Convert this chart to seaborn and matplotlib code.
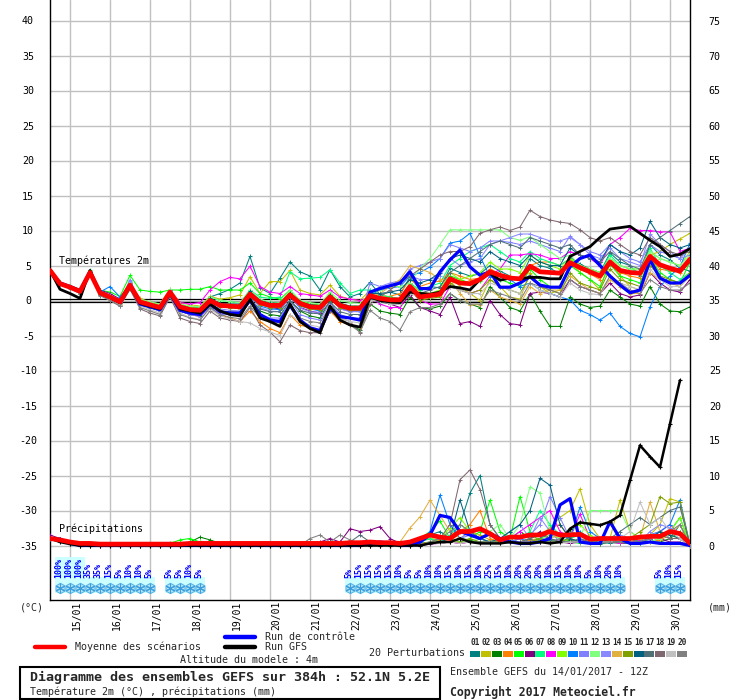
import matplotlib
matplotlib.use("Agg")
import matplotlib.pyplot as plt
import seaborn as sns
from matplotlib.lines import Line2D
from matplotlib.patches import Rectangle

# ---------------- data ----------------
HOURS = [6 * k for k in range(65)]          # 6-hourly steps, 0..384 h
DATE_HOURS = [12, 36, 60, 84, 108, 132, 156, 180, 204, 228, 252, 276, 300, 324, 348, 372]
DATE_LABELS = ["15/01", "16/01", "17/01", "18/01", "19/01", "20/01", "21/01", "22/01",
               "23/01", "24/01", "25/01", "26/01", "27/01", "28/01", "29/01", "30/01"]
LEFT_TICKS = [-35, -30, -25, -20, -15, -10, -5, 0, 5, 10, 15, 20, 25, 30, 35, 40]
RIGHT_TICKS = [0, 5, 10, 15, 20, 25, 30, 35, 40, 45, 50, 55, 60, 65, 70, 75]

MEMBER_NAMES = ["01", "02", "03", "04", "05", "06", "07", "08", "09", "10",
                "11", "12", "13", "14", "15", "16", "17", "18", "19", "20"]
MEMBER_COLORS = ["#008080", "#c0c000", "#008000", "#ff8000", "#00ff00", "#800080",
                 "#00ff80", "#ff00ff", "#80ff00", "#0080ff", "#8080ff", "#80ff80",
                 "#8888ff", "#e0b040", "#80a000", "#006080", "#507078", "#806870",
                 "#c0c0c0", "#808080"]

T_MEAN = [4.3,2.4,1.9,1.3, 4.0,1.1,0.5,-0.2, 2.2,-0.2,-0.6,-1.0, 1.2,-0.9,-1.3,-1.4,
          0.0,-0.7,-0.8,-0.9, 0.9,-0.3,-0.7,-0.7, 0.8,-0.4,-0.9,-1.0, 0.5,-0.7,-1.1,-1.1,
          0.7,0.3,0.1,0.1, 2.0,0.5,0.7,0.9, 3.1,2.5,2.4,3.0, 4.1,3.6,3.2,3.1,
          4.9,4.1,4.0,3.9, 5.4,4.7,4.1,3.5, 5.5,4.3,4.0,3.9, 6.3,5.1,4.6,4.2, 5.9]
T_GFS = [4.3,1.6,1.0,0.3, 4.3,1.0,0.4,-0.3, 2.0,-0.4,-0.8,-1.2, 1.0,-1.2,-1.5,-1.8,
         -0.5,-1.5,-2.0,-2.2, 0.2,-2.5,-3.0,-3.7, -0.5,-3.0,-4.0,-4.6, -0.8,-2.8,-3.5,-3.8,
         0.5,0.0,-0.2,-0.3, 1.2,1.0,0.9,1.2, 2.0,1.8,1.5,3.0, 3.9,2.9,3.2,3.1,
         3.3,3.3,3.1,3.1, 6.3,7.0,7.7,9.0, 10.2,10.4,10.6,9.6, 8.6,7.7,6.3,6.6, 7.4]
T_CTRL = [4.3,2.5,2.0,1.4, 4.1,1.2,0.5,-0.3, 2.2,-0.5,-0.9,-1.3, 1.0,-1.4,-1.8,-2.0,
          -0.5,-1.6,-1.8,-1.8, 0.0,-2.0,-2.8,-3.0, -0.7,-2.8,-3.9,-4.3, -1.1,-2.3,-2.5,-2.8,
          1.2,1.7,2.1,2.5, 4.1,1.7,1.7,4.1, 5.8,7.2,4.8,3.6, 4.1,1.9,1.9,2.5,
          3.4,2.2,1.9,1.9, 4.8,6.0,6.5,5.0, 3.5,2.2,1.1,1.5, 5.8,3.2,2.5,2.5, 3.6]

T01 = [4.3,2.6,2.0,1.5, 4.2,1.4,0.7,-0.1, 2.6,0.0,-0.3,-0.8, 1.5,-0.5,-1.0,-0.9,
       0.5,1.0,1.6,2.5, 6.3,1.8,1.0,3.2, 5.5,4.1,3.5,1.5, 4.4,2.0,0.5,1.0,
       2.6,0.8,1.2,0.8, 3.4,1.5,2.0,1.8, 4.6,4.0,3.5,3.8, 5.0,4.2,3.5,3.0,
       6.0,5.0,4.6,3.8, 6.2,5.2,4.5,4.0, 6.8,5.5,5.0,3.5, 8.0,6.5,5.8,4.6, 4.2]
T02 = [4.3,2.5,2.0,1.4, 4.1,1.3,0.6,0.0, 2.5,0.3,-0.2,-0.5, 1.6,-0.3,-0.6,-0.8,
       0.6,0.2,0.4,0.8, 3.4,1.0,2.7,2.7, 4.3,1.5,1.0,0.8, 2.2,0.6,0.2,0.0,
       1.5,0.8,0.5,0.2, 2.5,1.2,1.0,0.6, 3.5,2.0,1.0,0.0, 3.0,2.0,0.5,0.2,
       4.0,2.0,1.0,1.5, 5.5,4.0,3.0,1.5, 6.0,3.5,2.0,1.5, 6.5,7.0,8.0,8.8, 9.6]
T03 = [4.3,2.3,1.8,1.0, 3.8,0.8,0.2,-0.6, 1.8,-0.6,-1.0,-1.5, 0.8,-1.5,-2.0,-2.2,
       -0.8,-1.5,-1.8,-2.0, 0.2,-1.5,-2.0,-2.2, 0.0,-1.5,-2.2,-2.5, 0.0,-2.8,-3.5,-4.2,
       -0.5,-1.5,-1.8,-2.0, 0.5,-1.0,-1.2,-0.8, 1.0,0.0,-0.5,-1.0, 2.0,0.5,-1.0,-1.5,
       1.0,-1.5,-3.7,-3.7, 0.5,-0.5,-1.0,-0.8, 1.5,0.5,-0.5,-0.8, 2.0,-0.5,-1.5,-1.6, -0.9]
T04 = [4.3,2.4,1.8,1.2, 3.9,1.0,0.3,-0.5, 2.0,-0.5,-0.9,-1.3, 0.9,-1.5,-2.0,-2.3,
       -1.0,-2.0,-2.5,-3.0, -1.5,-3.0,-4.0,-4.6, -2.0,-3.5,-3.9,-4.2, -1.5,-3.0,-3.5,-3.8,
       0.0,0.5,0.6,1.0, 3.0,2.0,2.5,2.8, 4.0,3.5,3.0,3.2, 4.5,3.8,3.5,3.0,
       5.0,5.5,5.5,5.0, 6.0,4.5,3.8,3.0, 5.2,4.0,3.5,3.2, 6.0,4.5,4.2,4.0, 6.0]
T05 = [4.3,2.6,2.1,1.6, 4.3,1.5,1.2,0.6, 3.6,1.5,1.3,1.2, 1.5,1.5,1.6,1.6,
       2.0,1.5,1.5,1.5, 2.5,1.0,0.5,0.2, 1.5,0.0,-0.5,-0.8, 1.0,-0.5,-1.0,-1.0,
       0.8,0.0,-0.5,-0.3, 1.5,0.5,0.8,1.0, 3.5,3.0,2.5,2.8, 4.0,3.0,2.5,2.0,
       4.5,3.0,2.0,1.8, 5.0,4.0,3.0,2.0, 5.2,3.5,3.0,2.5, 6.0,4.0,3.0,2.5, 5.5]
T06 = [4.3,2.5,2.0,1.3, 4.1,1.5,1.0,0.2, 2.5,0.0,-0.4,-0.8, 1.3,-0.6,-1.0,-1.2,
       0.2,-0.5,-0.8,-1.0, 0.8,-0.5,-1.0,-1.2, 0.5,-1.0,-1.5,-1.8, 0.5,-1.2,-1.5,-1.5,
       0.5,0.0,-0.5,-1.0, 0.8,-1.0,-1.5,-2.0, 0.5,-3.3,-3.0,-3.7, 0.0,-2.0,-3.3,-3.5,
       1.0,1.2,1.0,0.5, 3.0,2.0,1.5,1.0, 2.5,1.0,0.5,0.8, 4.0,2.5,1.5,1.2, 3.0]
T07 = [4.3,2.5,1.9,1.4, 4.1,1.2,0.6,-0.1, 2.4,0.0,-0.4,-0.8, 1.4,-0.6,-1.0,-1.0,
       0.5,0.0,-0.2,-0.3, 1.5,0.5,0.3,0.5, 4.1,3.1,3.2,3.3, 4.4,2.5,1.0,1.5,
       1.5,0.8,0.5,0.3, 2.5,1.5,2.0,2.5, 5.0,6.0,7.0,7.5, 8.0,7.0,6.0,5.5,
       7.0,6.0,5.5,5.0, 6.0,5.0,4.5,4.0, 6.5,5.0,4.5,4.0, 7.5,5.0,4.0,3.0, 4.0]
T08 = [4.3,2.5,1.9,1.3, 4.0,1.2,0.5,-0.2, 2.3,0.0,-0.4,-0.7, 1.5,-0.3,-0.5,-0.3,
       1.5,2.7,3.3,3.1, 4.9,2.0,1.2,1.0, 2.0,1.0,0.8,0.6, 1.5,0.5,0.2,0.0,
       0.5,-0.5,-1.0,-1.0, 1.5,0.0,-0.5,-0.5, 2.0,1.5,1.0,1.5, 3.5,4.5,6.5,6.5,
       6.7,6.5,6.0,6.0, 7.0,6.5,6.0,5.0, 8.0,9.0,10.3,10.0, 10.0,9.8,9.8,7.0, 7.5]
T09 = [4.3,2.4,1.9,1.4, 4.1,1.2,0.6,0.0, 2.4,0.1,-0.3,-0.7, 1.4,-0.7,-1.0,-1.2,
       0.3,-0.5,-0.5,-0.6, 1.4,0.0,-0.4,-0.4, 1.2,-0.1,-0.5,-0.6, 1.0,-0.4,-0.8,-0.8,
       1.0,0.5,0.2,0.0, 2.2,0.8,1.0,1.5, 4.0,3.0,3.5,4.0, 5.5,4.5,4.5,4.0,
       6.5,5.5,5.0,4.5, 6.0,5.0,4.5,4.0, 6.0,5.0,4.5,4.5, 7.0,6.0,5.5,5.0, 7.0]
T10 = [4.3,2.4,2.0,1.5, 3.9,1.2,2.0,0.5, 2.3,-0.3,-0.8,-1.0, 1.2,-1.0,-1.4,-1.6,
       -0.3,-0.9,-1.0,-1.2, 0.5,-0.8,-1.2,-1.3, 0.5,-0.8,-1.2,-1.5, 0.3,-1.0,-1.4,-1.5,
       0.8,1.5,1.8,2.0, 3.5,4.0,4.8,6.0, 8.2,8.5,9.6,6.3, 3.4,3.5,3.0,2.0,
       2.5,1.5,1.0,0.5, 0.1,-1.4,-2.0,-2.8, -1.8,-3.7,-4.7,-5.2, -0.9,2.0,3.5,4.8, 8.2]
T11 = [4.3,2.5,2.0,1.4, 4.2,1.3,0.8,0.0, 2.8,-0.5,-1.0,-1.5, 1.0,-1.5,-2.0,-2.3,
       -1.0,-2.0,-2.0,-2.2, 0.5,-2.0,-2.5,-2.5, 0.0,-2.0,-2.5,-2.8, -0.3,-2.0,-2.5,-2.5,
       2.5,2.0,2.2,2.5, 4.5,5.0,5.5,6.0, 8.0,7.5,7.0,7.5, 8.5,8.5,8.3,8.0,
       8.5,8.0,7.5,7.0, 9.2,8.0,7.0,6.5, 8.0,7.0,6.0,5.5, 8.0,7.0,6.5,6.0, 7.5]
T12 = [4.3,2.5,2.0,1.4, 4.1,1.3,0.7,0.0, 2.6,0.2,-0.2,-0.5, 1.6,-0.5,-0.8,-0.9,
       0.5,0.0,-0.2,-0.3, 1.5,0.2,-0.2,-0.3, 1.5,0.0,-0.3,-0.5, 1.2,0.0,-0.3,-0.4,
       1.0,1.5,2.0,2.0, 2.5,4.6,6.0,8.0, 10.1,10.1,10.1,10.1, 10.1,10.1,9.0,8.6,
       9.1,8.0,7.0,6.0, 6.5,5.0,4.5,4.0, 6.0,5.0,4.5,4.5, 7.0,6.0,5.5,5.0, 6.5]
T13 = [4.3,2.4,1.9,1.3, 4.0,1.2,0.5,-0.3, 3.0,-0.3,-0.7,-1.1, 1.4,-1.0,-1.5,-1.7,
       -0.5,-1.2,-1.4,-1.5, 0.8,-1.0,-1.5,-1.6, 0.6,-1.1,-1.6,-1.7, 0.5,-1.2,-1.6,-1.6,
       1.0,2.0,2.5,2.8, 3.5,3.0,3.0,3.5, 6.0,5.0,5.5,6.0, 8.0,8.5,9.0,9.5,
       9.5,9.0,8.5,8.5, 9.0,8.0,6.5,6.0, 7.5,6.0,5.5,5.0, 9.5,8.0,7.0,6.0, 6.5]
T14 = [4.3,2.4,1.9,1.3, 4.0,1.0,0.3,-0.4, 2.0,-0.4,-0.8,-1.2, 1.0,-1.2,-1.6,-1.8,
       -0.2,-0.8,-1.0,-1.2, 1.0,-0.5,-0.8,-0.8, 1.0,-0.5,-1.0,-1.0, 0.8,-0.8,-1.2,-1.2,
       0.5,1.0,2.0,3.0, 5.0,4.5,4.0,3.0, 3.0,1.0,-0.6,-0.6, 1.5,0.5,0.0,-0.5,
       2.0,1.0,1.5,1.5, 3.5,2.5,1.5,1.0, 3.0,2.0,1.0,1.0, 4.0,3.0,2.5,2.0, 3.5]
T15 = [4.3,2.3,1.8,1.2, 3.9,1.0,0.4,-0.3, 2.1,-0.3,-0.7,-1.1, 1.1,-1.1,-1.5,-1.6,
       -0.2,-0.9,-1.0,-1.1, 0.6,-0.6,-1.0,-1.0, 0.6,-0.7,-1.2,-1.3, 0.2,-1.0,-1.4,-1.4,
       0.5,0.0,-0.3,-0.5, 1.5,0.0,0.3,0.5, 2.5,1.5,1.0,1.5, 3.0,2.0,1.5,1.0,
       3.5,2.0,1.5,1.0, 4.0,2.5,2.0,1.5, 4.5,3.0,2.5,2.0, 5.0,3.5,3.0,2.5, 4.0]
T16 = [4.3,2.5,1.9,1.3, 4.1,1.0,0.4,-0.3, 2.1,-0.4,-0.8,-1.2, 1.1,-1.1,-1.5,-1.6,
       0.3,-0.4,-0.5,-0.5, 1.3,0.0,-0.4,-0.4, 1.1,-0.2,-0.6,-0.7, 0.8,-0.4,-0.8,-0.8,
       1.0,1.0,1.2,1.5, 3.0,2.5,3.0,4.0, 6.0,6.5,6.0,5.5, 7.0,6.0,5.5,5.0,
       6.5,5.5,5.0,5.0, 7.5,6.5,6.0,5.5, 8.0,7.0,6.5,7.5, 11.3,9.0,8.0,7.5, 8.0]
T17 = [4.3,2.4,1.9,1.3, 4.0,1.1,0.3,-0.4, 2.0,-0.6,-1.0,-1.4, 0.9,-1.4,-1.8,-2.0,
       -0.8,-1.5,-1.6,-1.7, 0.2,-1.2,-1.6,-1.6, 0.0,-1.4,-1.8,-1.9, -0.2,-1.6,-2.0,-2.0,
       0.2,-0.2,-0.5,-0.5, 1.5,1.0,1.5,2.0, 4.0,5.0,6.0,7.0, 8.0,8.5,8.0,7.5,
       9.0,8.5,8.0,7.5, 8.0,6.5,6.0,5.5, 7.0,6.0,5.0,4.5, 8.0,9.0,10.0,11.0, 12.0]
T18 = [4.3,2.3,1.8,1.1, 3.8,0.8,0.0,-0.8, 1.6,-1.2,-1.8,-2.2, 0.5,-2.5,-3.0,-3.3,
       -1.5,-2.5,-2.8,-3.0, -1.0,-3.5,-4.5,-5.9, -3.5,-4.3,-4.6,-4.6, -1.5,-2.5,-3.0,-4.6,
       -0.5,0.5,1.5,2.5, 3.5,4.5,5.5,6.5, 7.0,7.0,7.7,9.6, 10.1,10.5,10.0,10.5,
       12.9,12.0,11.5,11.2, 11.0,10.1,9.0,8.5, 9.0,8.0,7.0,6.5, 9.0,8.0,7.0,6.5, 7.0]
T19 = [4.3,2.4,1.8,1.2, 3.9,0.9,0.2,-0.6, 1.9,-0.8,-1.3,-1.8, 0.7,-1.8,-2.4,-2.7,
       -1.2,-2.2,-2.6,-3.0, -3.2,-4.0,-4.5,-5.0, -2.0,-3.0,-3.5,-3.8, -1.0,-2.5,-3.0,-3.2,
       0.0,0.0,-0.5,-0.5, 1.0,0.5,0.5,0.8, 2.0,1.5,1.0,1.0, 2.5,2.0,1.5,1.0,
       2.5,1.5,1.0,0.5, 2.5,1.5,1.0,0.8, 3.5,2.5,2.0,1.5, 4.5,3.0,2.0,2.0, 3.5]
T20 = [4.3,2.3,1.7,1.0, 3.7,0.7,0.0,-0.8, 1.7,-1.0,-1.5,-2.0, 0.6,-2.0,-2.5,-2.8,
       -1.0,-2.0,-2.4,-2.6, -0.8,-2.5,-3.0,-3.2, -0.5,-2.5,-3.0,-3.2, -0.8,-2.8,-3.5,-4.5,
       -1.4,-2.5,-3.0,-4.2, -1.6,-1.0,-1.0,-0.5, 1.0,0.0,-0.5,-0.5, 1.5,1.0,0.5,0.0,
       2.5,2.0,1.5,1.0, 3.0,2.0,1.5,1.0, 3.5,2.5,1.5,1.0, 3.0,2.0,1.5,1.5, 2.5]

P_MEAN = [1.0,0.8,0.5,0.3, 0.3,0.2,0.2,0.2, 0.2,0.2,0.2,0.2, 0.2,0.2,0.3,0.3,
          0.3,0.3,0.3,0.3, 0.3,0.3,0.3,0.3, 0.3,0.3,0.3,0.3, 0.3,0.3,0.4,0.4,
          0.5,0.4,0.4,0.3, 0.5,1.0,1.5,1.2, 1.0,2.0,2.0,2.4, 1.7,0.8,1.2,1.2,
          1.5,1.5,2.0,1.5, 1.5,1.6,0.9,1.0, 1.0,1.0,1.0,1.2, 1.3,1.3,2.0,1.7, 0.3]
P_GFS = [1.0,0.5,0.2,0.0, 0,0,0,0, 0,0,0,0, 0,0,0,0,
         0,0,0,0, 0,0,0,0, 0,0,0,0, 0,0,0,0,
         0,0,0,0, 0,0,0.3,0.5, 0.5,1.0,0.5,0.3, 0.3,0.3,0.5,0.3,
         0.3,0.5,0.3,0.5, 2.4,3.3,3.1,2.9, 3.4,4.3,9.3,14.3, 12.7,11.2,17.4,23.6]
P_CTRL = [1.0,0.9,0.3,0.0, 0,0,0,0, 0,0,0,0, 0,0,0,0,
          0,0,0,0, 0,0,0,0, 0,0,0,0, 0,0,0,0,
          0.3,0.5,0.3,0.0, 0.0,0.5,1.5,4.3, 4.0,2.0,1.5,1.0, 1.7,1.0,0.5,0.3,
          0.3,0.5,1.0,5.8, 6.7,0.5,0.3,0.3, 3.4,1.0,0.3,0.3, 0.5,0.3,0.3,0.3, 0.0]

P01 = [1.0,0.9,0.3,0.1, 0,0,0,0, 0,0,0,0, 0,0,0,0,
       0,0.2,0.3,0.1, 0,0,0,0, 0,0,0,0, 0,0.2,0.5,0.3,
       0.5,0.3,0.2,0.1, 0.2,0.8,1.5,2.0, 1.0,3.0,7.5,10.0, 3.0,1.0,0.5,0.3,
       0.5,1.0,0.8,0.5, 1.2,2.0,1.0,0.5, 0.3,0.5,1.0,0.8, 1.5,2.0,1.0,3.0, 0.0]
P02 = [1.0,0.8,0.2,0, 0,0,0,0, 0,0,0,0, 0,0,0,0,
       0,0,0,0, 0,0,0,0, 0,0,0,0, 0,0,0,0.2,
       0.3,0.2,0,0, 0,0.5,1.0,0.8, 0.5,1.0,2.0,1.5, 0.8,0.5,0.3,0.5,
       1.0,1.5,2.5,4.0, 5.0,8.1,3.0,1.0, 1.0,6.5,2.0,1.0, 1.5,3.0,6.7,6.2, 0.0]
P03 = [1.0,0.8,0.3,0, 0,0,0,0, 0,0,0,0, 0,0,0.5,1.2,
       0.8,0.3,0,0, 0,0,0,0, 0,0,0,0, 0,0,0,0,
       0,0,0,0, 0,0.3,0.5,0.3, 0.5,1.0,0.8,0.5, 0.3,0.8,1.0,2.0,
       1.0,0.5,0.3,0.5, 0.8,0.5,0.3,0.2, 0.5,0.3,0.3,0.5, 0.5,0.5,1.0,2.0, 0.0]
P04 = [1.0,0.9,0.2,0, 0,0,0,0, 0,0,0,0, 0,0,0,0,
       0,0,0.2,0.3, 0,0,0,0, 0,0,0,0, 0,0,0,0,
       0,0,0,0, 0,0.2,0.5,0.8, 0.5,2.0,3.0,5.0, 1.0,0.5,0.3,0.5,
       0.8,1.0,2.5,3.0, 1.0,0.5,0.3,0.3, 0.5,0.5,1.0,0.5, 0.5,0.8,1.5,1.0, 0.0]
P05 = [1.0,0.8,0.3,0, 0,0,0,0, 0,0,0,0, 0.3,0.8,1.0,0.5,
       0.3,0,0,0, 0,0,0,0, 0,0,0,0, 0,0,0,0,
       0,0,0,0, 0.5,1.0,2.0,3.5, 1.0,0.5,1.0,2.0, 6.5,2.0,1.0,7.0,
       2.0,0.5,0.5,1.0, 0.5,0.3,0.5,0.5, 0.5,1.0,0.5,0.5, 1.0,1.5,2.0,4.0, 0.0]
P06 = [1.5,1.0,0.3,0, 0,0,0,0, 0,0,0,0, 0,0,0,0,
       0,0,0,0, 0,0,0,0, 0,0,0,0.5, 1.0,0.5,2.4,2.0,
       2.2,2.7,1.0,0.3, 0,0,0.2,0.3, 0.5,0.3,0.5,0.3, 0.5,0.5,0.3,0.5,
       1.0,2.0,1.0,0.5, 0.3,0.5,1.0,0.5, 0.5,0.5,0.3,0.3, 0.5,1.0,0.5,0.5, 0.0]
P07 = [1.0,0.8,0.2,0, 0,0,0,0, 0,0,0,0, 0,0,0,0,
       0,0,0,0, 0,0,0,0, 0,0,0,0, 0,0,0,0,
       0,0,0,0, 0,0.5,1.0,0.5, 1.5,3.0,2.0,1.0, 0.5,0.3,0.5,1.0,
       2.0,5.0,3.0,1.5, 1.0,1.5,1.0,0.5, 0.5,1.0,0.5,0.3, 1.0,1.5,2.0,4.0, 0.0]
P08 = [1.0,0.8,0.2,0, 0,0,0,0, 0,0,0,0, 0,0,0,0,
       0,0,0,0, 0,0,0,0, 0,0,0,0, 0,0,0,0,
       0,0,0,0, 0,0,0.3,0.5, 0.5,0.3,0.5,0.3, 0.5,0.3,1.0,2.0,
       3.0,4.0,5.0,2.0, 1.0,4.5,1.0,0.5, 0.5,0.3,0.5,0.8, 1.0,2.0,3.0,1.5, 0.0]
P09 = [1.0,0.8,0.3,0, 0,0,0,0, 0,0,0,0, 0,0,0.3,0.5,
       0.3,0,0,0, 0,0,0,0, 0,0,0,0, 0,0,0,0,
       0,0,0,0, 0,0,0.5,1.0, 2.5,4.0,2.0,1.0, 0.5,0.5,0.3,0.5,
       0.5,1.0,1.5,1.0, 2.0,3.0,1.5,0.5, 0.5,0.5,1.0,0.5, 0.5,1.0,2.0,4.0, 0.0]
P10 = [1.0,0.9,0.2,0, 0,0,0,0, 0,0,0,0, 0,0,0,0,
       0,0,0,0, 0,0,0,0, 0,0,0,0, 0,0,0,0,
       0,0,0,0, 0,0.5,2.0,7.2, 3.0,1.0,0.5,0.5, 0.3,0.3,0.5,1.0,
       0.5,1.0,2.0,1.5, 1.0,5.5,2.0,1.0, 0.5,0.5,0.3,0.3, 1.0,2.0,3.0,6.5, 0.0]
P11 = [1.0,0.8,0.2,0, 0,0,0,0, 0,0,0,0, 0,0,0,0,
       0,0,0,0, 0,0,0,0, 0,0,0,0, 0,0,0.3,0.5,
       0.5,0.3,0,0, 0,0,0.3,0.5, 0.5,1.0,1.5,1.0, 0.5,0.5,0.5,1.0,
       1.5,3.0,7.0,4.0, 1.0,0.5,0.5,0.3, 0.5,0.5,1.0,1.0, 1.5,2.0,1.0,1.0, 0.0]
P12 = [1.0,0.8,0.2,0, 0,0,0,0, 0,0,0,0, 0,0,0,0,
       0,0,0,0, 0,0,0,0, 0,0,0,0, 0,0,0,0,
       0,0,0,0, 0,0,0.5,0.5, 1.0,0.5,0.5,1.0, 2.0,3.0,1.0,3.0,
       8.4,7.5,2.0,1.0, 0.5,1.0,5.0,5.0, 5.0,5.0,2.0,1.0, 0.5,1.0,1.5,1.0, 0.0]
P13 = [1.0,0.8,0.2,0, 0,0,0,0, 0,0,0,0, 0,0,0,0,
       0,0,0,0, 0,0,0,0, 0,0,0,0, 0,0,0,0,
       0,0,0,0, 0,0,0.3,0.5, 0.5,1.0,2.0,1.0, 0.5,1.0,2.0,3.0,
       1.0,4.0,2.0,0.5, 0.5,0.5,0.3,0.5, 1.0,1.5,1.0,0.5, 2.0,3.0,2.5,1.5, 0.0]
P14 = [1.0,0.8,0.2,0, 0,0,0,0, 0,0,0,0, 0,0,0,0,
       0,0,0,0, 0,0,0,0, 0,0,0,0, 0,0,0,0,
       0,0,0,0.5, 2.5,4.1,6.5,4.3, 2.0,1.0,0.5,0.5, 0.5,1.0,0.5,0.5,
       1.0,0.5,1.0,1.5, 2.0,1.5,1.0,0.5, 0.5,1.0,0.5,1.0, 6.2,2.0,1.5,3.0, 0.0]
P15 = [1.0,0.8,0.2,0, 0,0,0,0, 0,0,0,0, 0,0,0,0,
       0,0,0,0, 0,0,0,0, 0,0,0,0, 0,0,0,0,
       0,0,0,0, 0,0,0.3,0.5, 0.5,0.5,1.0,0.5, 0.5,0.5,0.3,0.5,
       0.5,1.0,0.5,0.5, 1.0,0.5,0.5,0.5, 0.5,0.5,1.0,2.0, 3.0,7.0,6.0,6.2, 0.0]
P16 = [1.0,0.8,0.2,0, 0,0,0,0, 0,0,0,0, 0,0,0,0,
       0,0,0,0, 0,0,0,0, 0,0,0,0, 0,0,0,0,
       0,0,0,0, 0,0,0.3,0.5, 1.0,6.5,2.0,1.0, 0.5,1.0,2.0,3.0,
       5.0,9.6,8.6,3.0, 1.0,0.5,0.5,0.3, 0.5,0.5,1.0,0.5, 1.0,2.0,1.5,1.0, 0.0]
P17 = [1.0,0.8,0.2,0, 0,0,0,0, 0,0,0,0, 0,0,0,0,
       0,0,0,0, 0,0,0,0, 0,0,0,0, 0,0,0.5,1.5,
       0.5,0.3,0,0, 0,0,0.3,0.5, 0.5,1.0,0.5,0.5, 0.5,0.3,0.5,0.5,
       1.0,1.5,1.0,0.5, 0.5,1.0,0.5,0.5, 1.0,2.0,3.0,4.0, 3.0,4.0,5.0,5.5, 0.0]
P18 = [1.0,0.8,0.2,0, 0,0,0,0, 0,0,0,0, 0,0,0,0,
       0,0,0,0, 0,0,0,0, 0,0,0,0, 0,0,0,0,
       0,0,0,0, 0,0,0.5,1.0, 3.0,9.4,10.8,8.0, 3.0,1.0,0.5,0.5,
       0.5,0.5,0.3,0.5, 0.5,0.5,1.0,0.5, 0.5,0.5,0.5,0.5, 1.0,1.5,1.0,1.0, 0.0]
P19 = [1.0,0.8,0.2,0, 0,0,0,0, 0,0,0,0, 0,0,0,0,
       0,0,0,0, 0,0,0,0, 0,0,0,0, 0,0,0,0,
       0,0,0,0, 0,0,0.3,0.3, 0.5,0.3,0.5,0.3, 0.5,0.3,0.3,0.5,
       0.5,0.5,0.3,0.3, 0.5,0.5,0.3,0.5, 0.5,1.0,2.0,6.2, 3.0,4.0,2.0,1.0, 0.0]
P20 = [1.0,0.8,0.2,0, 0,0,0,0, 0,0,0,0, 0,0,0,0,
       0,0,0.5,0, 0,0,0,0, 0,0,1.0,1.5, 0.5,1.5,0.8,0.3,
       0,0,0,0, 0,0,0.5,1.0, 2.0,3.0,2.0,1.0, 1.5,1.0,0.5,0.5,
       0.5,0.5,0.5,1.0, 2.0,1.5,1.0,0.5, 0.5,0.5,1.0,0.5, 1.0,1.5,2.0,3.0, 0.0]

T_MEMBERS = [T01, T02, T03, T04, T05, T06, T07, T08, T09, T10,
             T11, T12, T13, T14, T15, T16, T17, T18, T19, T20]
P_MEMBERS = [P01, P02, P03, P04, P05, P06, P07, P08, P09, P10,
             P11, P12, P13, P14, P15, P16, P17, P18, P19, P20]

# snow probability per 6-h step (step index, percent)
SNOW_STEPS = [1, 2, 3, 4, 5, 6, 7, 8, 9, 10, 12, 13, 14, 15,
              30, 31, 32, 33, 34, 35, 36, 37, 38, 39, 40, 41, 42, 43, 44, 45, 46, 47,
              48, 49, 50, 51, 52, 53, 54, 55, 56, 57, 61, 62, 63]
SNOW_PCT = [100, 100, 100, 35, 35, 15, 5, 10, 10, 5, 5, 5, 10, 5,
            5, 15, 15, 15, 15, 10, 5, 5, 10, 10, 15, 10, 15, 10, 25, 15, 10, 20,
            20, 20, 10, 15, 10, 10, 5, 10, 20, 10, 5, 10, 15]

# ---------------- style / layout ----------------
sns.set_theme(style="white")
plt.rcParams["font.family"] = ["DejaVu Sans Mono", "DejaVu Sans"]

W, H = 740, 700
fig = plt.figure(figsize=(W / 100, H / 100), dpi=100)
fig.patch.set_facecolor("white")


def fx(px):
    return px / W


def fy(py):
    return 1 - py / H


def ty(py):  # pixel row -> temperature units (plot area)
    return (300.5 - py) / 7.0


def hx(px):  # pixel column -> hours
    return (px - 50) * 384 / 640


ax = fig.add_axes([fx(50), fy(600), 640 / W, 600 / H])
ax.set_facecolor("white")
ax.set_xlim(0, 384)
ax.set_ylim(ty(600), ty(0))

ax.set_xticks(DATE_HOURS)
ax.set_xticklabels([])
ax.set_yticks(LEFT_TICKS)
ax.set_yticklabels([str(v) for v in LEFT_TICKS])
ax.tick_params(axis="both", length=0)
ax.tick_params(axis="y", pad=15.8, labelsize=7.2, labelcolor="black")
for lbl in ax.get_yticklabels():
    lbl.set_horizontalalignment("center")
ax.grid(True, color="#c0c0c0", linewidth=1.0)
ax.set_axisbelow(True)
for side in ["left", "right", "bottom"]:
    ax.spines[side].set_color("black")
    ax.spines[side].set_linewidth(1.0)
ax.spines["top"].set_visible(False)

# zero line (double black)
ax.axhline(0.2, color="black", linewidth=0.9, zorder=1.2)
ax.axhline(-0.17, color="black", linewidth=0.9, zorder=1.2)

# temperature spaghetti
for vals, col in zip(T_MEMBERS, MEMBER_COLORS):
    sns.lineplot(x=HOURS, y=vals, ax=ax, color=col, linewidth=0.75, marker="+",
                 markersize=3.2, markeredgecolor=col, markeredgewidth=0.7,
                 legend=False, errorbar=None, zorder=2)
sns.lineplot(x=HOURS, y=T_CTRL, ax=ax, color="#0000ff", linewidth=2.3,
             legend=False, errorbar=None, zorder=3)
sns.lineplot(x=HOURS, y=T_GFS, ax=ax, color="black", linewidth=2.0,
             legend=False, errorbar=None, zorder=3.5)
sns.lineplot(x=HOURS, y=T_MEAN, ax=ax, color="#ff0000", linewidth=3.4,
             legend=False, errorbar=None, zorder=4)

# snow probability strip
snow_h = [6 * s for s in SNOW_STEPS]
snow_top = [min(577.0, 593.0 - 36.0 * p / 100.0) for p in SNOW_PCT]
snow_height = [(593.0 - t) / 7.0 for t in snow_top]
ax.bar(snow_h, snow_height, bottom=ty(593), width=6, color="#ccffff",
       linewidth=0, align="center", zorder=1.5)
ax.scatter(snow_h, [ty(587.5)] * len(snow_h), marker="h", s=55,
           facecolor="#bfe9f7", edgecolor="#5ab4e6", linewidth=0.8, zorder=5)
ax.scatter(snow_h, [ty(587.5)] * len(snow_h), marker=(6, 2, 0), s=38,
           color="#3d9fdc", linewidth=0.8, zorder=6)
for h, p in zip(snow_h, SNOW_PCT):
    ax.text(h - 0.9, ty(578), f"{p}%", rotation=90, ha="center", va="bottom",
            color="#0000ff", fontsize=6, fontweight="bold", zorder=6)

# in-plot labels
ax.text(hx(59), ty(261), "Températures 2m", ha="left", va="center",
        fontsize=7.2, color="black", zorder=7)
ax.text(hx(59), ty(529), "Précipitations", ha="left", va="center",
        fontsize=7.2, color="black", zorder=7)

# date labels (rotated)
for h, lab in zip(DATE_HOURS, DATE_LABELS):
    ax.text(h + 1.0, ty(601), lab, rotation=90, ha="left", va="top",
            fontsize=7, color="black", clip_on=False)

# precipitation on the right-hand axis
ax2 = ax.twinx()
ax2.set_ylim(ty(600) + 35, ty(0) + 35)
ax2.set_yticks(RIGHT_TICKS)
ax2.set_yticklabels([str(v) for v in RIGHT_TICKS])
ax2.tick_params(axis="y", length=0, pad=13.5, labelsize=7.2, labelcolor="black")
ax2.grid(False)
for side in ax2.spines:
    ax2.spines[side].set_visible(False)

for vals, col in zip(P_MEMBERS, MEMBER_COLORS):
    sns.lineplot(x=HOURS, y=vals, ax=ax2, color=col, linewidth=0.75, marker="+",
                 markersize=3.2, markeredgecolor=col, markeredgewidth=0.7,
                 legend=False, errorbar=None, zorder=2)
sns.lineplot(x=HOURS, y=P_CTRL, ax=ax2, color="#0000ff", linewidth=2.3,
             legend=False, errorbar=None, zorder=3)
sns.lineplot(x=HOURS[:len(P_GFS)], y=P_GFS, ax=ax2, color="black", linewidth=1.8,
             marker="+", markersize=3.5, markeredgecolor="black", markeredgewidth=0.8,
             legend=False, errorbar=None, zorder=3.5)
sns.lineplot(x=HOURS, y=P_MEAN, ax=ax2, color="#ff0000", linewidth=3.4,
             legend=False, errorbar=None, zorder=4)
ax2.set_xlim(0, 384)

# unit labels
fig.text(fx(20), fy(607), "(°C)", ha="left", va="center", fontsize=7.2)
fig.text(fx(708), fy(607), "(mm)", ha="left", va="center", fontsize=7.2)

# legend block
fig.add_artist(Line2D([fx(35), fx(65)], [fy(646.5)] * 2, color="#ff0000",
                      linewidth=3.2, transform=fig.transFigure))
fig.text(fx(75), fy(646.5), "Moyenne des scénarios", ha="left", va="center", fontsize=7.2)
fig.add_artist(Line2D([fx(225), fx(255)], [fy(636.5)] * 2, color="#0000ff",
                      linewidth=3.2, transform=fig.transFigure))
fig.text(fx(265), fy(636.5), "Run de contrôle", ha="left", va="center", fontsize=7.2)
fig.add_artist(Line2D([fx(225), fx(255)], [fy(646.5)] * 2, color="black",
                      linewidth=3.2, transform=fig.transFigure))
fig.text(fx(265), fy(646.5), "Run GFS", ha="left", va="center", fontsize=7.2)
fig.text(fx(180), fy(660), "Altitude du modele : 4m", ha="left", va="center", fontsize=7.2)
fig.text(fx(369), fy(652.5), "20 Perturbations", ha="left", va="center", fontsize=7.2)

for k, (name, col) in enumerate(zip(MEMBER_NAMES, MEMBER_COLORS)):
    x0 = 470 + k * 10.9
    fig.add_artist(Rectangle((fx(x0), fy(656.5)), 10 / W, 6 / H, facecolor=col,
                             edgecolor="none", transform=fig.transFigure))
    fig.text(fx(x0 + 5), fy(642.5), name, ha="center", va="center",
             fontsize=5.6, fontweight="bold")

# title box
fig.add_artist(Rectangle((fx(20), fy(699)), 420 / W, 32 / H, fill=False,
                         edgecolor="black", linewidth=1.5, transform=fig.transFigure))
fig.text(fx(30), fy(677.5), "Diagramme des ensembles GEFS sur 384h : 52.1N 5.2E",
         ha="left", va="center", fontsize=9.65, fontweight="bold")
fig.text(fx(30), fy(692), "Température 2m (°C) , précipitations (mm)",
         ha="left", va="center", fontsize=7.2)
fig.text(fx(450), fy(672.5), "Ensemble GEFS du 14/01/2017 - 12Z",
         ha="left", va="center", fontsize=7.2)
fig.text(fx(450), fy(692), "Copyright 2017 Meteociel.fr",
         ha="left", va="center", fontsize=8.3, fontweight="bold")

fig.savefig("out.png", dpi=100, facecolor="white")
